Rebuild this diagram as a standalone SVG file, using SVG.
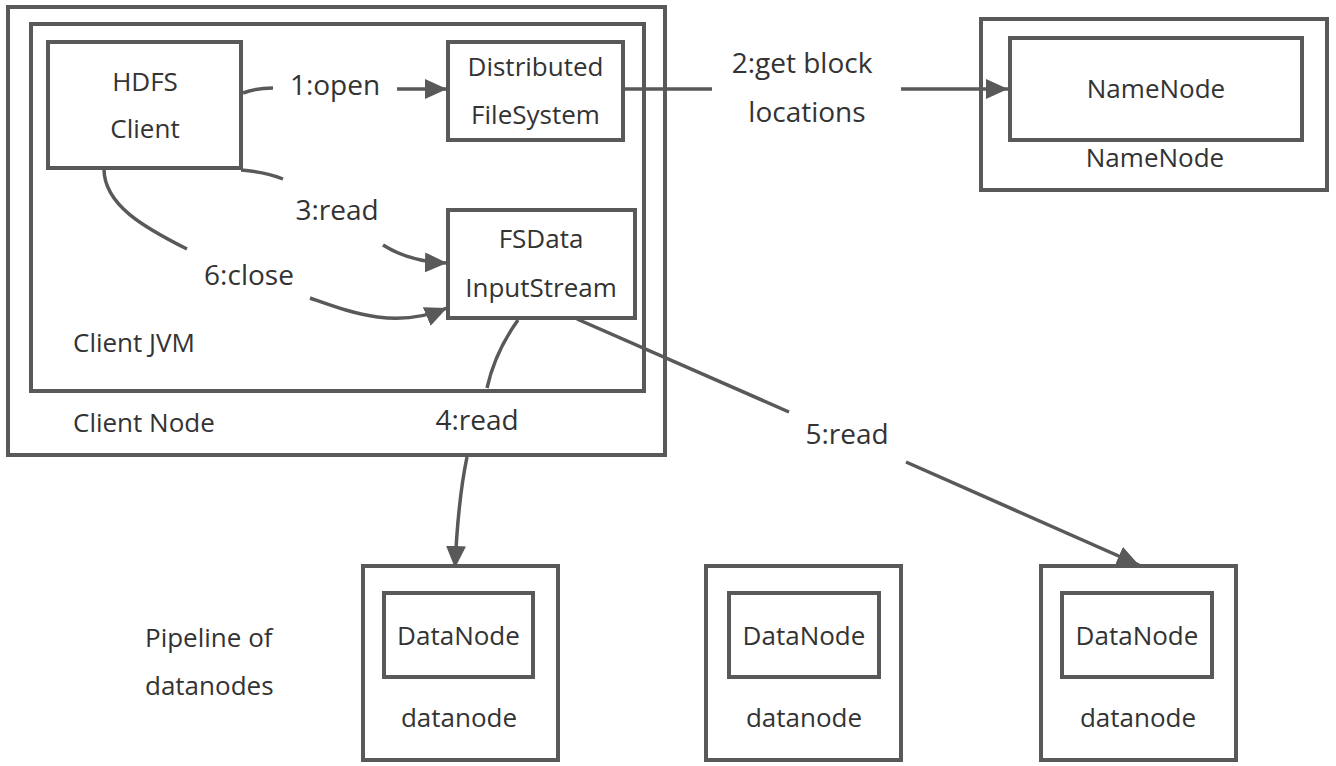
<svg xmlns="http://www.w3.org/2000/svg" width="1336" height="766" viewBox="0 0 1336 766">
<style>
.box{fill:none;stroke:#595959;stroke-width:4}
.ln{fill:none;stroke:#595959;stroke-width:3.5}
.t{font-family:"Open Sans","Noto Sans","DejaVu Sans",sans-serif;font-size:26px;fill:#333}
.e{font-family:"Open Sans","Noto Sans","DejaVu Sans",sans-serif;font-size:28px;fill:#333}
.m{text-anchor:middle}
</style>
<defs>
<marker id="arr" markerUnits="userSpaceOnUse" markerWidth="22" markerHeight="20" refX="22" refY="10" orient="auto">
<path d="M0,0 L22,10 L0,20 z" fill="#595959"/>
</marker>
</defs>
<rect width="1336" height="766" fill="#fff"/>
<g id="client-node">
<rect class="box" x="8" y="7" width="657" height="448"/>
<text class="t" x="73" y="432">Client Node</text>
</g>
<g id="client-jvm">
<rect class="box" x="31" y="24" width="613" height="367"/>
<text class="t" x="73" y="352">Client JVM</text>
</g>
<g id="hdfs-client">
<rect class="box" x="48" y="42" width="193" height="126"/>
<text class="t m" x="145" y="91">HDFS</text>
<text class="t m" x="145" y="138">Client</text>
</g>
<g id="distributed-fs">
<rect class="box" x="448" y="42" width="175" height="98"/>
<text class="t m" x="535.5" y="76">Distributed</text>
<text class="t m" x="535.5" y="124">FileSystem</text>
</g>
<g id="fsdata-inputstream">
<rect class="box" x="448" y="210" width="187" height="108"/>
<text class="t m" x="541" y="248">FSData</text>
<text class="t m" x="541" y="297">InputStream</text>
</g>
<g id="namenode">
<rect class="box" x="981" y="19" width="346" height="171"/>
<rect class="box" x="1010" y="38" width="292" height="102"/>
<text class="t m" x="1156" y="98">NameNode</text>
<text class="t m" x="1155" y="167">NameNode</text>
</g>
<g id="datanode-1">
<rect class="box" x="363" y="566" width="195" height="194"/>
<rect class="box" x="384" y="593" width="149" height="84"/>
<text class="t m" x="458.5" y="645">DataNode</text>
<text class="t m" x="459" y="727">datanode</text>
</g>
<g id="datanode-2">
<rect class="box" x="706" y="566" width="195" height="194"/>
<rect class="box" x="729" y="593" width="150" height="84"/>
<text class="t m" x="804" y="645">DataNode</text>
<text class="t m" x="804" y="727">datanode</text>
</g>
<g id="datanode-3">
<rect class="box" x="1041" y="566" width="195" height="194"/>
<rect class="box" x="1062" y="593" width="150" height="84"/>
<text class="t m" x="1137" y="645">DataNode</text>
<text class="t m" x="1138" y="727">datanode</text>
</g>
<g id="pipeline-label">
<text class="t" x="145" y="647">Pipeline of</text>
<text class="t" x="145" y="695">datanodes</text>
</g>
<g id="connectors">
<path class="ln" d="M243,93 Q256,88 273,88"/>
<path class="ln" d="M397,89 L447,89" marker-end="url(#arr)"/>
<text class="e m" x="335" y="95">1:open</text>
<path class="ln" d="M623,89 L712,89"/>
<path class="ln" d="M901,89 L1008,89" marker-end="url(#arr)"/>
<text class="e m" x="802" y="73">2:get block</text>
<text class="e m" x="807" y="122">locations</text>
<path class="ln" d="M241,170 Q266,172 283,179"/>
<path class="ln" d="M383,245 Q410,262 447,263" marker-end="url(#arr)"/>
<text class="e m" x="337" y="220">3:read</text>
<path class="ln" d="M104,169 C104,205 145,228 187,249"/>
<path class="ln" d="M310,298 C350,312 395,330 447,308" marker-end="url(#arr)"/>
<text class="e m" x="249" y="285">6:close</text>
<path class="ln" d="M518,320 Q495,352 487,388"/>
<path class="ln" d="M467,457 Q458,500 455,568" marker-end="url(#arr)"/>
<text class="e m" x="477" y="430">4:read</text>
<path class="ln" d="M577,319 L789,412"/>
<path class="ln" d="M906,462 L1139,565" marker-end="url(#arr)"/>
<text class="e m" x="847" y="444">5:read</text>
</g>
</svg>
